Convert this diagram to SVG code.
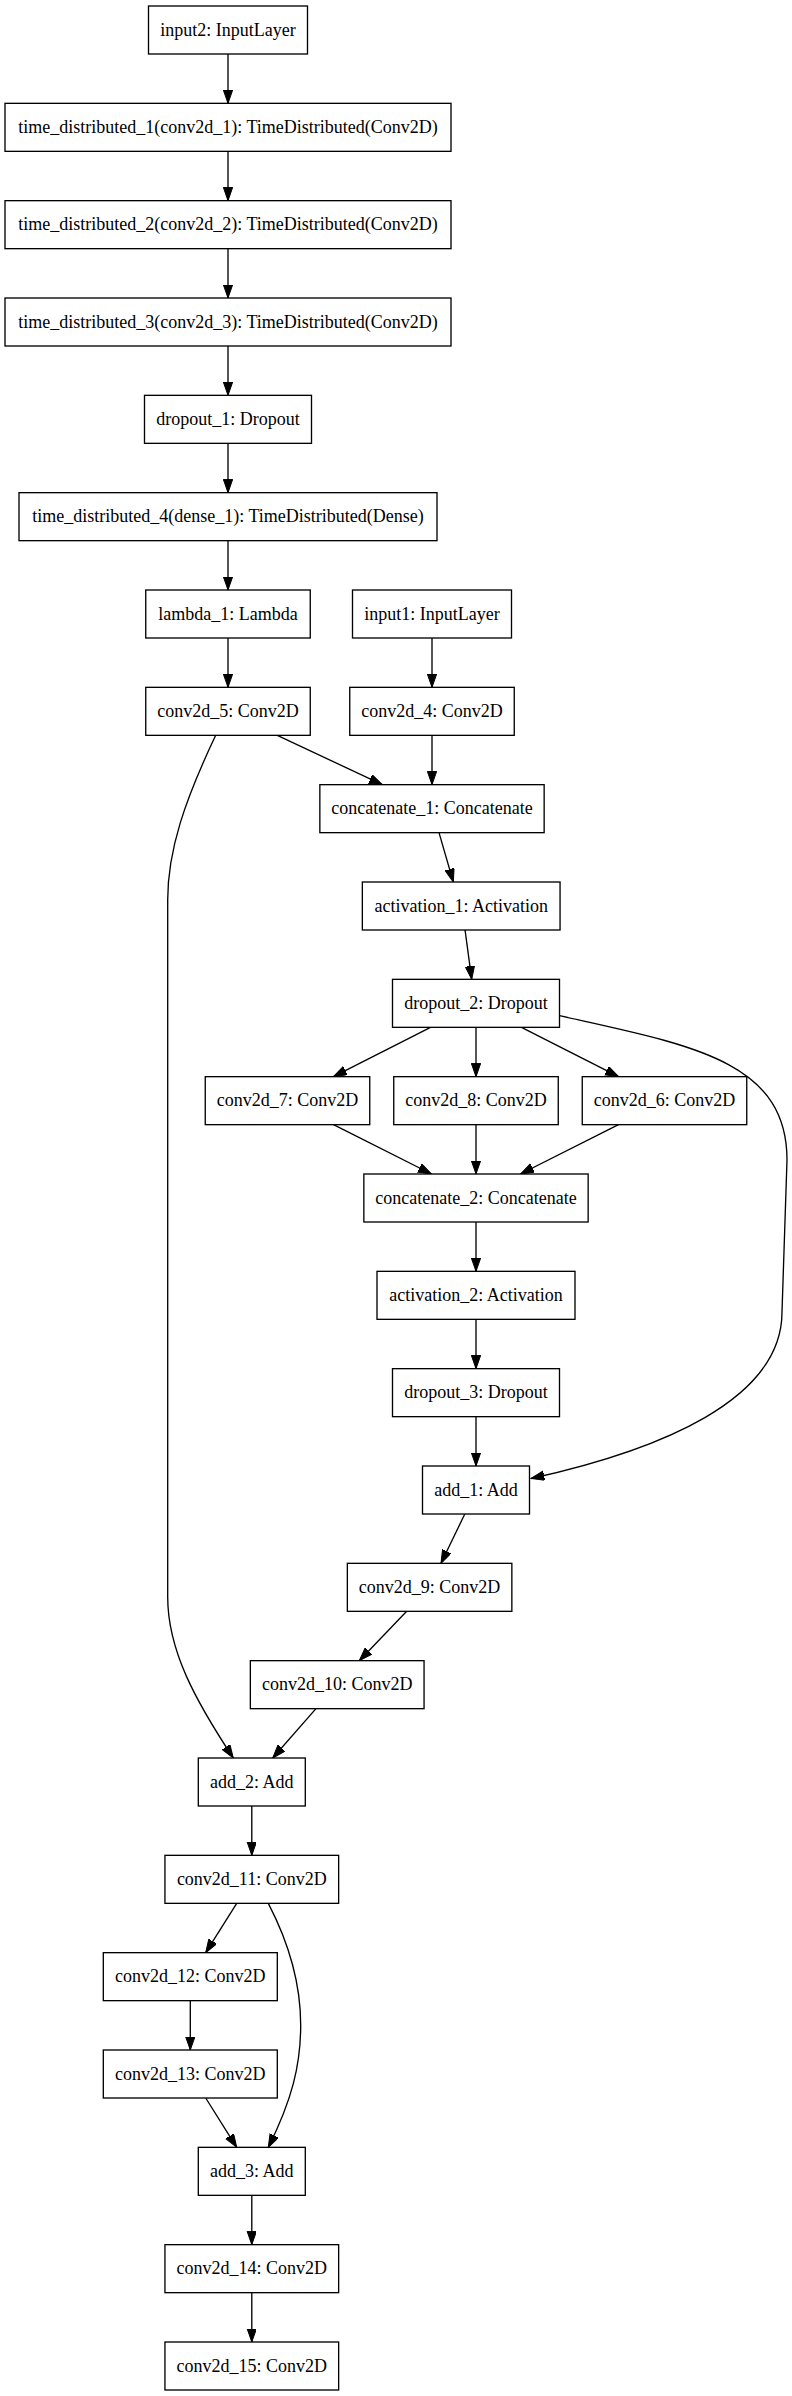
<svg xmlns="http://www.w3.org/2000/svg" width="792" height="2396" viewBox="0 0 792 2396">
<style>
rect.n{fill:#fff;stroke:#000;stroke-width:1.33}
text{font-family:"Liberation Serif","Times New Roman",serif;font-size:18px;text-anchor:middle;fill:#000}
#edges path{fill:none;stroke:#000;stroke-width:1.33;marker-end:url(#ah)}
</style>
<defs>
<marker id="ah" markerUnits="userSpaceOnUse" markerWidth="14" markerHeight="10" refX="13.3" refY="4.67" orient="auto" viewBox="0 0 14 10">
<path d="M0,0 L13.3,4.67 L0,9.33 z" fill="#000" stroke="#000" stroke-width="1"/>
</marker>
</defs>
<rect width="792" height="2396" fill="#fff"/>
<g id="edges">
<path d="M228,54 L228,103.33"/>
<path d="M228,151.33 L228,200.67"/>
<path d="M228,248.67 L228,298"/>
<path d="M228,346 L228,395.33"/>
<path d="M228,443.33 L228,492.67"/>
<path d="M228,540.67 L228,590"/>
<path d="M228,638 L228,687.33"/>
<path d="M432,638 L432,687.33"/>
<path d="M277.3,735.33 L382.3,784.67"/>
<path d="M432,735.33 L432,784.67"/>
<path d="M215.7,735.33 C185,800 167.7,850 167.7,900 L167.7,1597 C167.7,1650 195,1700 233.3,1758"/>
<path d="M439,832.67 L453.3,882"/>
<path d="M465,929.67 L471.7,979.33"/>
<path d="M430.5,1027.33 L333.5,1076.67"/>
<path d="M476,1027.33 L476,1076.67"/>
<path d="M521.5,1027.33 L618.5,1076.67"/>
<path d="M559.5,1015.7 C690,1045 787,1060 787,1160 L782,1312 C782,1400 660,1450 531,1478.5"/>
<path d="M333.5,1124.67 L431.5,1174"/>
<path d="M476,1124.67 L476,1174"/>
<path d="M618.5,1124.67 L520.5,1174"/>
<path d="M476,1222 L476,1271.33"/>
<path d="M476,1319.33 L476,1368.67"/>
<path d="M476,1416.67 L476,1466"/>
<path d="M464.8,1514 L441,1563.33"/>
<path d="M406.7,1611.33 L359.3,1660.67"/>
<path d="M316,1708.67 L272.7,1758"/>
<path d="M251.8,1806 L251.8,1855.33"/>
<path d="M236.7,1903.33 L205.7,1952.67"/>
<path d="M268.3,1903.33 C290,1945 300.7,1985 300.7,2025 C300.7,2065 292,2100 268.3,2147.33"/>
<path d="M190.3,2000.67 L190.3,2050"/>
<path d="M205.7,2098 L236.7,2147.33"/>
<path d="M251.8,2195.33 L251.8,2244.67"/>
<path d="M251.8,2292.67 L251.8,2342"/>
</g>
<g id="input2"><rect class="n" x="148.5" y="6" width="159" height="48"/><text x="228" y="35.5">input2: InputLayer</text></g>
<g id="time_distributed_1"><rect class="n" x="5" y="103.33" width="446" height="48"/><text x="228" y="132.83">time_distributed_1(conv2d_1): TimeDistributed(Conv2D)</text></g>
<g id="time_distributed_2"><rect class="n" x="5" y="200.67" width="446" height="48"/><text x="228" y="230.17">time_distributed_2(conv2d_2): TimeDistributed(Conv2D)</text></g>
<g id="time_distributed_3"><rect class="n" x="5" y="298" width="446" height="48"/><text x="228" y="327.5">time_distributed_3(conv2d_3): TimeDistributed(Conv2D)</text></g>
<g id="dropout_1"><rect class="n" x="144.5" y="395.33" width="167" height="48"/><text x="228" y="424.83">dropout_1: Dropout</text></g>
<g id="time_distributed_4"><rect class="n" x="19" y="492.67" width="418" height="48"/><text x="228" y="522.17">time_distributed_4(dense_1): TimeDistributed(Dense)</text></g>
<g id="lambda_1"><rect class="n" x="145.75" y="590" width="164.5" height="48"/><text x="228" y="619.5">lambda_1: Lambda</text></g>
<g id="input1"><rect class="n" x="352.5" y="590" width="159" height="48"/><text x="432" y="619.5">input1: InputLayer</text></g>
<g id="conv2d_5"><rect class="n" x="145.75" y="687.33" width="164.5" height="48"/><text x="228" y="716.83">conv2d_5: Conv2D</text></g>
<g id="conv2d_4"><rect class="n" x="349.75" y="687.33" width="164.5" height="48"/><text x="432" y="716.83">conv2d_4: Conv2D</text></g>
<g id="concatenate_1"><rect class="n" x="319.85" y="784.67" width="224.3" height="48"/><text x="432" y="814.17">concatenate_1: Concatenate</text></g>
<g id="activation_1"><rect class="n" x="362.35" y="882" width="197.7" height="48"/><text x="461.2" y="911.5">activation_1: Activation</text></g>
<g id="dropout_2"><rect class="n" x="392.5" y="979.33" width="167" height="48"/><text x="476" y="1008.83">dropout_2: Dropout</text></g>
<g id="conv2d_7"><rect class="n" x="205.25" y="1076.67" width="164.5" height="48"/><text x="287.5" y="1106.17">conv2d_7: Conv2D</text></g>
<g id="conv2d_8"><rect class="n" x="393.75" y="1076.67" width="164.5" height="48"/><text x="476" y="1106.17">conv2d_8: Conv2D</text></g>
<g id="conv2d_6"><rect class="n" x="582.25" y="1076.67" width="164.5" height="48"/><text x="664.5" y="1106.17">conv2d_6: Conv2D</text></g>
<g id="concatenate_2"><rect class="n" x="363.85" y="1174" width="224.3" height="48"/><text x="476" y="1203.5">concatenate_2: Concatenate</text></g>
<g id="activation_2"><rect class="n" x="377" y="1271.33" width="198" height="48"/><text x="476" y="1300.83">activation_2: Activation</text></g>
<g id="dropout_3"><rect class="n" x="392.5" y="1368.67" width="167" height="48"/><text x="476" y="1398.17">dropout_3: Dropout</text></g>
<g id="add_1"><rect class="n" x="422.5" y="1466" width="107" height="48"/><text x="476" y="1495.5">add_1: Add</text></g>
<g id="conv2d_9"><rect class="n" x="347.35" y="1563.33" width="164.5" height="48"/><text x="429.6" y="1592.83">conv2d_9: Conv2D</text></g>
<g id="conv2d_10"><rect class="n" x="250.35" y="1660.67" width="173.7" height="48"/><text x="337.2" y="1690.17">conv2d_10: Conv2D</text></g>
<g id="add_2"><rect class="n" x="198.3" y="1758" width="107" height="48"/><text x="251.8" y="1787.5">add_2: Add</text></g>
<g id="conv2d_11"><rect class="n" x="164.95" y="1855.33" width="173.7" height="48"/><text x="251.8" y="1884.83">conv2d_11: Conv2D</text></g>
<g id="conv2d_12"><rect class="n" x="103.3" y="1952.67" width="174" height="48"/><text x="190.3" y="1982.17">conv2d_12: Conv2D</text></g>
<g id="conv2d_13"><rect class="n" x="103.3" y="2050" width="174" height="48"/><text x="190.3" y="2079.5">conv2d_13: Conv2D</text></g>
<g id="add_3"><rect class="n" x="198.3" y="2147.33" width="107" height="48"/><text x="251.8" y="2176.83">add_3: Add</text></g>
<g id="conv2d_14"><rect class="n" x="164.95" y="2244.67" width="173.7" height="48"/><text x="251.8" y="2274.17">conv2d_14: Conv2D</text></g>
<g id="conv2d_15"><rect class="n" x="164.95" y="2342" width="173.7" height="48"/><text x="251.8" y="2371.5">conv2d_15: Conv2D</text></g>
</svg>
